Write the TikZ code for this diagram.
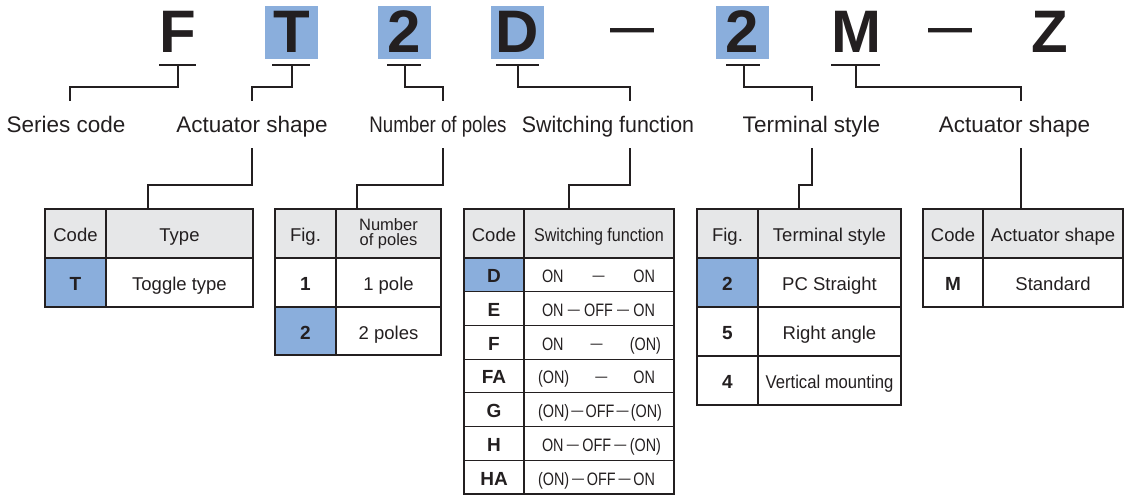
\documentclass[tikz,border=0pt]{standalone}
\usepackage{fontspec}
\setmainfont{Liberation Sans}
\newfontfamily\fcondA[FakeStretch=0.83]{Liberation Sans}
\newfontfamily\fcondB[FakeStretch=0.95]{Liberation Sans}
\newfontfamily\fcondC[FakeStretch=0.87]{Liberation Sans}
\newfontfamily\fcondD[FakeStretch=0.8]{Liberation Sans}
\newfontfamily\fcondE[FakeStretch=0.9]{Liberation Sans}
\definecolor{ink}{HTML}{231F20}
\definecolor{hl}{RGB}{138,174,220}
\definecolor{hdr}{HTML}{E6E7E8}
\newcommand\sdash{—}
\newcommand\tdash{\hfill\raisebox{2pt}{\fontsize{15}{15}\selectfont —}\hfill}
% #1 left pad from cell edge, #2 width, #3 content
\newcommand\swbox[3]{{\fcondD\fontsize{18}{20}\selectfont
  \makebox[150pt][l]{\hspace*{#1pt}\makebox[#2pt]{#3}}}}
\tikzset{
  conn/.style={draw=ink, line width=1.3pt},
  outerbox/.style={draw=ink, line width=2.2pt},
  cellbase/.style={draw=ink, line width=1.2pt, inner sep=0pt, outer sep=0pt, text=ink, align=center,
    font=\fontsize{18.5}{20}\selectfont},
  cell/.style={cellbase, text height=16pt, text depth=0pt},
  hdbase/.style={cellbase, fill=hdr},
  hd/.style={cell, fill=hdr},
  hi/.style={fill=hl},
  code/.style={font=\fontsize{19}{20}\selectfont\bfseries},
  big/.style={inner sep=0pt, outer sep=0pt, minimum width=53pt, minimum height=53pt,
    text height=47pt, text depth=6pt, text=ink, font=\fontsize{60}{60}\selectfont\bfseries},
  bigdash/.style={anchor=base, inner sep=0pt, text=ink, font=\fontsize{44}{44}\selectfont\bfseries},
  lbl/.style={anchor=base, inner sep=0pt, text=ink, font=\fontsize{22.5}{24}\selectfont},
}
\begin{document}
\begin{tikzpicture}[x=1pt,y=-1pt]
\useasboundingbox (0,0) rectangle (1125,495);

% ---- code letters ----
\node[big] (cF) at (178,32.5) {F};
\node[big,fill=hl] (cT) at (291.5,32.5) {T};
\node[big,fill=hl] (cP) at (404.5,32.5) {2};
\node[big,fill=hl] (cD) at (517.5,32.5) {D};
\node[bigdash] (dA) at (632.5,42.5) {\sdash};
\node[big,fill=hl] (cS) at (742.5,32.5) {2};
\node[big] (cM) at (856,32.5) {M};
\node[bigdash] (dB) at (950,42.5) {\sdash};
\node[big] (cZ) at (1049.5,32.5) {Z};

% ---- labels ----
\node[lbl] (lSer) at (66,132) {Series code};
\node[lbl] (lAct) at (252,132) {Actuator shape};
\node[lbl,font=\fcondA\fontsize{22.5}{24}\selectfont] (lPol) at (438,132) {Number of poles};
\node[lbl,font=\fcondB\fontsize{22.5}{24}\selectfont] (lSw) at (608,132) {Switching function};
\node[lbl] (lTer) at (811.5,132) {Terminal style};
\node[lbl] (lAc2) at (1014.5,132) {Actuator shape};

% ---- coordinates of connector ends ----
\coordinate (uF) at (178,65);  \coordinate (uF1) at (159,65); \coordinate (uF2) at (196,65);
\coordinate (uT) at (292,65);  \coordinate (uT1) at (272,65); \coordinate (uT2) at (310,65);
\coordinate (uP) at (405,65);  \coordinate (uP1) at (387,65); \coordinate (uP2) at (421,65);
\coordinate (uD) at (518,65);  \coordinate (uD1) at (496,65); \coordinate (uD2) at (539,65);
\coordinate (uS) at (744,65);  \coordinate (uS1) at (726,65); \coordinate (uS2) at (760,65);
\coordinate (uM) at (856,65);  \coordinate (uM1) at (831,65); \coordinate (uM2) at (880,65);

\coordinate (aSer) at (70,101);
\coordinate (aAct) at (252,101);
\coordinate (aPol) at (443,101);
\coordinate (aSw) at (630,101);
\coordinate (aTer) at (812,101);
\coordinate (aAc2) at (1021,101);

\coordinate (bAct) at (252,148);
\coordinate (bPol) at (443,148);
\coordinate (bSw) at (630,148);
\coordinate (bTer) at (812,148);
\coordinate (bAc2) at (1021,148);

\coordinate (tAct) at (148,209);
\coordinate (tPol) at (357,209);
\coordinate (tSw) at (569,209);
\coordinate (tTer) at (799,209);
\coordinate (tAc2) at (1021,209);

% underlines
\foreach \a/\b in {uF1/uF2,uT1/uT2,uP1/uP2,uD1/uD2,uS1/uS2,uM1/uM2}
  \draw[conn] (\a) -- (\b);

% upper connectors
\draw[conn] (uF) -- ++(0,22) -| (aSer);
\draw[conn] (uT) -- ++(0,22) -| (aAct);
\draw[conn] (uP) -- ++(0,22) -| (aPol);
\draw[conn] (uD) -- ++(0,22) -| (aSw);
\draw[conn] (uS) -- ++(0,22) -| (aTer);
\draw[conn] (uM) -- ++(0,22) -| (aAc2);

% lower connectors
\draw[conn] (bAct) -- ++(0,37) -| (tAct);
\draw[conn] (bPol) -- ++(0,37) -| (tPol);
\draw[conn] (bSw) -- ++(0,37) -| (tSw);
\draw[conn] (bTer) -- ++(0,37) -| (tTer);
\draw[conn] (bAc2) -- (tAc2);

% ---- Table 1: actuator type ----
\node[hd,minimum width=61pt,minimum height=49pt] (t1a) at (75.5,233.5) {Code};
\node[hd,minimum width=147pt,minimum height=49pt] (t1b) at (179.5,233.5) {Type};
\node[cell,code,hi,minimum width=61pt,minimum height=49pt] (t1c) at (75.5,282.5) {T};
\node[cell,minimum width=147pt,minimum height=49pt] (t1d) at (179.5,282.5) {Toggle type};
\draw[outerbox] (t1a.north west) rectangle (t1d.south east);

% ---- Table 2: number of poles ----
\node[hd,minimum width=61pt,minimum height=49pt] (t2a) at (305.5,233.5) {Fig.};
\node[hdbase,minimum width=105pt,minimum height=49pt,font=\fontsize{16.5}{14.5}\selectfont] (t2b) at (388.5,233.5) {Number\\of poles};
\node[cell,code,minimum width=61pt,minimum height=49pt] (t2c) at (305.5,282.5) {1};
\node[cell,minimum width=105pt,minimum height=49pt] (t2d) at (388.5,282.5) {1 pole};
\node[cell,code,hi,minimum width=61pt,minimum height=48pt] (t2e) at (305.5,331) {2};
\node[cell,minimum width=105pt,minimum height=48pt] (t2f) at (388.5,331) {2 poles};
\draw[outerbox] (t2a.north west) rectangle (t2f.south east);

% ---- Table 3: switching function ----
\node[hd,minimum width=60pt,minimum height=49pt] (t3a) at (494,233.5) {Code};
\node[hd,minimum width=150pt,minimum height=49pt,font=\fcondC\fontsize{18.5}{20}\selectfont] (t3b) at (599,233.5) {Switching function};
\node[cell,code,hi,minimum width=60pt,minimum height=33.7pt] (t3c1) at (494,274.85) {D};
\node[cell,minimum width=150pt,minimum height=33.7pt] (t3d1) at (599,274.85) {\swbox{18}{113}{ON\tdash ON}};
\node[cell,code,minimum width=60pt,minimum height=33.7pt] (t3c2) at (494,308.55) {E};
\node[cell,minimum width=150pt,minimum height=33.7pt] (t3d2) at (599,308.55) {\swbox{18}{113}{ON\tdash OFF\tdash ON}};
\node[cell,code,minimum width=60pt,minimum height=33.7pt] (t3c3) at (494,342.25) {F};
\node[cell,minimum width=150pt,minimum height=33.7pt] (t3d3) at (599,342.25) {\swbox{18}{119}{ON\tdash (ON)}};
\node[cell,code,minimum width=60pt,minimum height=33.7pt] (t3c4) at (494,375.95) {FA};
\node[cell,minimum width=150pt,minimum height=33.7pt] (t3d4) at (599,375.95) {\swbox{14}{117}{(ON)\tdash ON}};
\node[cell,code,minimum width=60pt,minimum height=33.7pt] (t3c5) at (494,409.65) {G};
\node[cell,minimum width=150pt,minimum height=33.7pt] (t3d5) at (599,409.65) {\swbox{14}{124}{(ON)\tdash OFF\tdash (ON)}};
\node[cell,code,minimum width=60pt,minimum height=33.7pt] (t3c6) at (494,443.35) {H};
\node[cell,minimum width=150pt,minimum height=33.7pt] (t3d6) at (599,443.35) {\swbox{18}{119}{ON\tdash OFF\tdash (ON)}};
\node[cell,code,minimum width=60pt,minimum height=33.7pt] (t3c7) at (494,477.05) {HA};
\node[cell,minimum width=150pt,minimum height=33.7pt] (t3d7) at (599,477.05) {\swbox{14}{117}{(ON)\tdash OFF\tdash ON}};
\draw[outerbox] (t3a.north west) rectangle (t3d7.south east);

% ---- Table 4: terminal style ----
\node[hd,minimum width=61pt,minimum height=49pt] (t4a) at (727.5,233.5) {Fig.};
\node[hd,minimum width=143pt,minimum height=49pt] (t4b) at (829.5,233.5) {Terminal style};
\node[cell,code,hi,minimum width=61pt,minimum height=49pt] (t4c) at (727.5,282.5) {2};
\node[cell,minimum width=143pt,minimum height=49pt] (t4d) at (829.5,282.5) {PC Straight};
\node[cell,code,minimum width=61pt,minimum height=49pt] (t4e) at (727.5,331.5) {5};
\node[cell,minimum width=143pt,minimum height=49pt] (t4f) at (829.5,331.5) {Right angle};
\node[cell,code,minimum width=61pt,minimum height=49pt] (t4g) at (727.5,380.5) {4};
\node[cell,minimum width=143pt,minimum height=49pt,font=\fcondE\fontsize{18.5}{20}\selectfont] (t4h) at (829.5,380.5) {Vertical mounting};
\draw[outerbox] (t4a.north west) rectangle (t4h.south east);

% ---- Table 5: actuator shape ----
\node[hd,minimum width=60pt,minimum height=49pt] (t5a) at (953,233.5) {Code};
\node[hd,minimum width=140pt,minimum height=49pt] (t5b) at (1053,233.5) {Actuator shape};
\node[cell,code,minimum width=60pt,minimum height=49pt] (t5c) at (953,282.5) {M};
\node[cell,minimum width=140pt,minimum height=49pt] (t5d) at (1053,282.5) {Standard};
\draw[outerbox] (t5a.north west) rectangle (t5d.south east);
\end{tikzpicture}
\end{document}
